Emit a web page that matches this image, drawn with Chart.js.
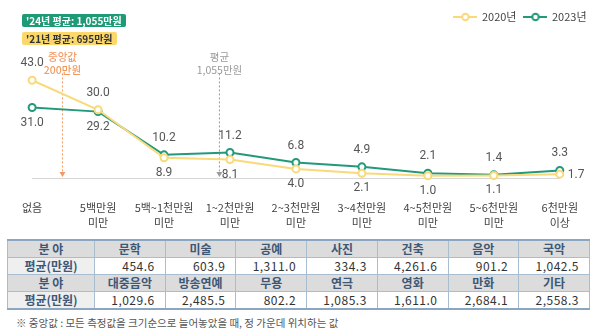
<!DOCTYPE html>
<html>
<head>
<meta charset="utf-8">
<script src="https://cdn.jsdelivr.net/npm/chart.js@4.4.1/dist/chart.umd.min.js"></script>
<style>
body { margin: 0; width: 600px; height: 335px; position: relative; overflow: hidden; background: #fff; font-family: "Noto Sans CJK KR", sans-serif; }
#wrap { position: absolute; left: 0; top: 0; width: 600px; height: 230px; }
.badge { position: absolute; left: 22px; height: 13px; line-height: 13px; font-size: 10px; font-weight: bold; padding: 0 4px; border-radius: 2px; white-space: nowrap; }
#b1 { top: 14px; background: #1f9a77; color: #fff; }
#b2 { top: 32px; background: #fbd86b; color: #333; }
table { position: absolute; left: 7px; top: 239px; width: 583px; border-collapse: collapse; table-layout: fixed; font-size: 12px; }
td { height: 16px; padding: 0; border: 1px solid #a9bdd0; line-height: 16px; white-space: nowrap; }
tr.head td { background: #dcdcdc; color: #3d5877; font-weight: bold; text-align: center; }
tr.val td { color: #333; text-align: right; padding-right: 10px; letter-spacing: 0.5px; }
tr.val td.lab { background: #efefef; color: #3d5877; font-weight: bold; text-align: center; padding-right: 0; letter-spacing: 0; }
table { border-top: 2px solid #8aa6c1; border-bottom: 2px solid #8aa6c1; }
#note { position: absolute; left: 16px; top: 315px; font-size: 10.5px; color: #555; white-space: nowrap; }
</style>
</head>
<body>
<div id="wrap"><canvas id="incomeChart"></canvas></div>
<div class="badge" id="b1">'24년 평균: 1,055만원</div>
<div class="badge" id="b2">'21년 평균: 695만원</div>
<table id="tbl"></table>
<div id="note">※ 중앙값 : 모든 측정값을 크기순으로 늘어놓았을 때, 정 가운데 위치하는 값</div>
<script>
const categories = [["없음"], ["5백만원", "미만"], ["5백~1천만원", "미만"], ["1~2천만원", "미만"], ["2~3천만원", "미만"], ["3~4천만원", "미만"], ["4~5천만원", "미만"], ["5~6천만원", "미만"], ["6천만원", "이상"]]
const data2020 = [43.0, 30.0, 8.9, 8.1, 4.0, 2.1, 1.0, 1.1, 1.7]
const data2023 = [31.0, 29.2, 10.2, 11.2, 6.8, 4.9, 2.1, 1.4, 3.3]

const fields1 = ["문학", "미술", "공예", "사진", "건축", "음악", "국악"]
const avg1 = [454.6, 603.9, 1311.0, 334.3, 4261.6, 901.2, 1042.5]
const fields2 = ["대중음악", "방송연예", "무용", "연극", "영화", "만화", "기타"]
const avg2 = [1029.6, 2485.5, 802.2, 1085.3, 1611.0, 2684.1, 2558.3]

// median / average markers, placed on the category axis
const markers = [
	{ pos: 0.46, lines: ["중앙값", "200만원"], color: "#f29a63", bold: true },
	{ pos: 2.84, lines: ["평균", "1,055만원"], color: "#9a9a9a", bold: false }
]

const yellow = "#f9d97a"
const green = "#23997a"

// table
const fmt = v => v.toLocaleString("en-US", { minimumFractionDigits: 1, maximumFractionDigits: 1 })
let html = "<colgroup><col style='width:87px'>" + fields1.map(() => "<col>").join("") + "</colgroup>"
const rows = [[fields1, avg1], [fields2, avg2]]
rows.forEach(([f, a]) => {
	html += "<tr class='head'><td>분 야</td>" + f.map(t => "<td>" + t + "</td>").join("") + "</tr>"
	html += "<tr class='val'><td class='lab'>평균(만원)</td>" + a.map(v => "<td>" + fmt(v) + "</td>").join("") + "</tr>"
})
document.getElementById("tbl").innerHTML = html

function legendIcon(color) {
	const c = document.createElement("canvas")
	c.width = 24
	c.height = 10
	const g = c.getContext("2d")
	g.strokeStyle = color
	g.lineWidth = 2
	g.beginPath(); g.moveTo(0, 5); g.lineTo(24, 5); g.stroke()
	g.fillStyle = "#fff"
	g.beginPath(); g.arc(12, 5, 3.2, 0, Math.PI * 2); g.fill(); g.stroke()
	return c
}

const markerPlugin = {
	id: "markers",
	beforeDatasetsDraw(chart) {
		const ctx = chart.ctx
		const x = chart.scales.x, y = chart.scales.y
		ctx.save()
		markers.forEach(m => {
			const px = x.getPixelForValue(m.pos)
			const top = y.getPixelForValue(46)
			const bot = y.getPixelForValue(0) - 6
			ctx.strokeStyle = m.color
			ctx.lineWidth = 1
			ctx.setLineDash([2, 2])
			ctx.beginPath(); ctx.moveTo(px, top); ctx.lineTo(px, bot); ctx.stroke()
			ctx.setLineDash([])
			ctx.fillStyle = m.color
			ctx.beginPath(); ctx.moveTo(px - 3, bot); ctx.lineTo(px + 3, bot); ctx.lineTo(px, bot + 5); ctx.closePath(); ctx.fill()
			ctx.font = (m.bold ? "500 " : "") + "10.5px 'Noto Sans CJK KR'"
			ctx.textAlign = "center"
			ctx.textBaseline = "middle"
			ctx.fillText(m.lines[0], px, 57)
			ctx.fillText(m.lines[1], px, 70)
		})
		ctx.restore()
	}
}

const valuePlugin = {
	id: "values",
	afterDatasetsDraw(chart) {
		const ctx = chart.ctx
		const sets = chart.data.datasets
		ctx.save()
		ctx.font = "12px Roboto, 'Noto Sans', sans-serif"
		ctx.fillStyle = "#555"
		ctx.textBaseline = "middle"
		sets.forEach((ds, di) => {
			const other = sets[1 - di].data
			chart.getDatasetMeta(di).data.forEach((pt, i) => {
				const v = ds.data[i]
				const up = v >= other[i]
				ctx.textAlign = "center"
				let px = pt.x, py = up ? pt.y - 17 : pt.y + 15
				if (!up && i === ds.data.length - 1) {
					ctx.textAlign = "left"
					px = pt.x + 8
					py = pt.y + 1
				}
				ctx.fillText(v.toFixed(1), px, py)
			})
		})
		ctx.restore()
	}
}

const hiddenAxis = (pos, w) => ({
	position: pos,
	display: true,
	grid: { display: false, drawTicks: false },
	border: { display: false },
	ticks: { display: false },
	afterFit(s) { s.width = w }
})

const incomeChart = new Chart(document.getElementById("incomeChart"), {
	type: "line",
	data: {
		labels: categories,
		datasets: [{
			label: "2020년",
			data: data2020,
			borderColor: yellow,
			backgroundColor: "#fff",
			borderWidth: 2,
			pointRadius: 3.5,
			pointBorderWidth: 2,
			tension: 0,
			clip: false
		}, {
			label: "2023년",
			data: data2023,
			borderColor: green,
			backgroundColor: "#fff",
			borderWidth: 2,
			pointRadius: 3.5,
			pointBorderWidth: 2,
			tension: 0,
			clip: false
		}]
	},
	options: {
		responsive: true,
		maintainAspectRatio: false,
		animation: false,
		layout: { padding: { top: 3.5, left: 0, right: 5.5, bottom: 0 } },
		scales: {
			x: {
				grid: { display: false, drawTicks: false },
				border: { display: true, color: "#d6d6d6", width: 1 },
				ticks: {
					color: "#444",
					padding: 22,
					font: { size: 11, family: "'Noto Sans CJK KR'", lineHeight: 1.36 },
					maxRotation: 0,
					autoSkip: false
				},
				afterFit(s) { s.height = 52 }
			},
			y: Object.assign(hiddenAxis("left", 16.5), { min: 0, max: 64 }),
			yR: hiddenAxis("right", 11)
		},
		plugins: {
			tooltip: { enabled: false },
			legend: {
				position: "top",
				align: "end",
				labels: {
					usePointStyle: true,
					pointStyleWidth: 22,
					padding: 8,
					color: "#444",
					font: { size: 11, family: "'Noto Sans CJK KR'" },
					generateLabels(chart) {
						return Chart.defaults.plugins.legend.labels.generateLabels(chart).map(item => {
							item.pointStyle = legendIcon(item.strokeStyle)
							return item
						})
					}
				}
			}
		}
	},
	plugins: [markerPlugin, valuePlugin]
})
</script>
</body>
</html>
